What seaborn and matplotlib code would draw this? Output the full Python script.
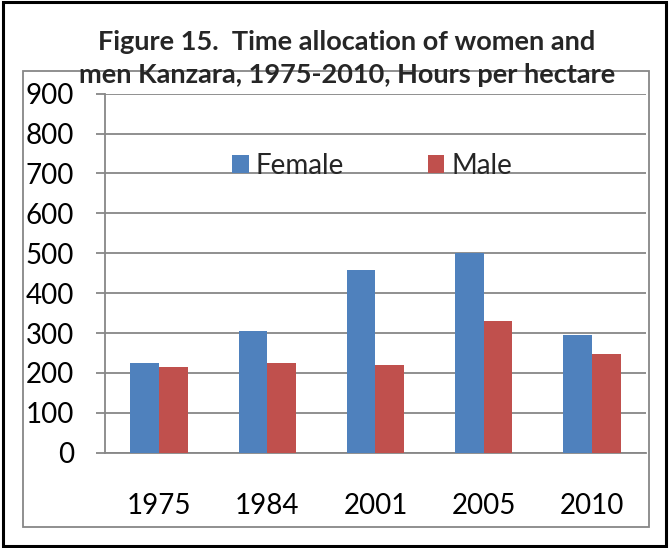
"""
Bar chart: time allocation of women and men in Kanzara, 1975-2010 (hours per hectare).
"""

import pandas as pd
import seaborn as sns
import matplotlib.pyplot as plt
from matplotlib.patches import Rectangle

# Data
YEARS = ["1975", "1984", "2001", "2005", "2010"]
FEMALE = [225, 305, 459, 500, 294]
MALE = [215, 226, 220, 329, 248]
SERIES = ["Female", "Male"]
COLORS = ["#4F81BD", "#C0504D"]
YTICKS = list(range(0, 1000, 100))

TITLE_1 = "Figure 15.  Time allocation of women and"
TITLE_2 = "men Kanzara, 1975-2010, Hours per hectare"

GRID = "#878787"

sns.set_theme(style="white")
plt.rcParams["font.family"] = ["Lato", "DejaVu Sans"]


def plot(save_as):
    df = pd.DataFrame({
        "Year": YEARS * 2,
        "Hours": FEMALE + MALE,
        "Sex": [SERIES[0]] * len(YEARS) + [SERIES[1]] * len(YEARS),
    })

    fig = plt.figure(figsize=(6.71, 5.48), dpi=100)
    ax = fig.add_axes([0.1565, 0.1739, 0.9627 - 0.1565, 0.829 - 0.1739])

    sns.barplot(
        data=df, x="Year", y="Hours", hue="Sex", order=YEARS,
        hue_order=SERIES, palette=COLORS, width=0.53, ax=ax,
        saturation=1, edgecolor="none", zorder=3,
    )

    ax.set_ylim(0, 900)
    ax.set_yticks(YTICKS)
    ax.set_xlabel("")
    ax.set_ylabel("")
    ax.yaxis.grid(True, color=GRID, linewidth=1.3, zorder=0)
    ax.set_axisbelow(True)
    for side in ["top", "right"]:
        ax.spines[side].set_visible(False)
    for side in ["left", "bottom"]:
        ax.spines[side].set_color(GRID)
        ax.spines[side].set_linewidth(1.3)
    ax.tick_params(axis="y", left=True, length=6.7, width=1.3, color=GRID,
                   pad=15.5, labelsize=20, labelcolor="black")
    ax.tick_params(axis="x", bottom=False, pad=23, labelsize=20, labelcolor="black")

    handles, labels = ax.get_legend_handles_labels()
    ax.legend(handles, labels, loc="center", bbox_to_anchor=(0.494, 0.80),
              ncol=2, frameon=False, fontsize=20, handlelength=0.6,
              handleheight=0.6, handletextpad=0.25, columnspacing=3.0,
              borderpad=0, borderaxespad=0)

    fig.text(347 / 671, 1 - 50 / 548, TITLE_1, ha="center", va="baseline",
             fontsize=19.5, fontweight="bold")
    fig.text(347 / 671, 1 - 83 / 548, TITLE_2, ha="center", va="baseline",
             fontsize=19.5, fontweight="bold")

    # gray chart frame and black outer border
    fig.patches.append(Rectangle((23 / 671, 1 - 527 / 548), 626 / 671, 456 / 548,
                                 transform=fig.transFigure, fill=False,
                                 edgecolor=GRID, linewidth=1.3, zorder=0))
    fig.patches.append(Rectangle((3 / 671, 1 - 546 / 548), 663 / 671, 544 / 548,
                                 transform=fig.transFigure, fill=False,
                                 edgecolor="black", linewidth=2.2, zorder=0))

    fig.savefig(save_as, dpi=100)


if __name__ == "__main__":
    plot("out.png")
